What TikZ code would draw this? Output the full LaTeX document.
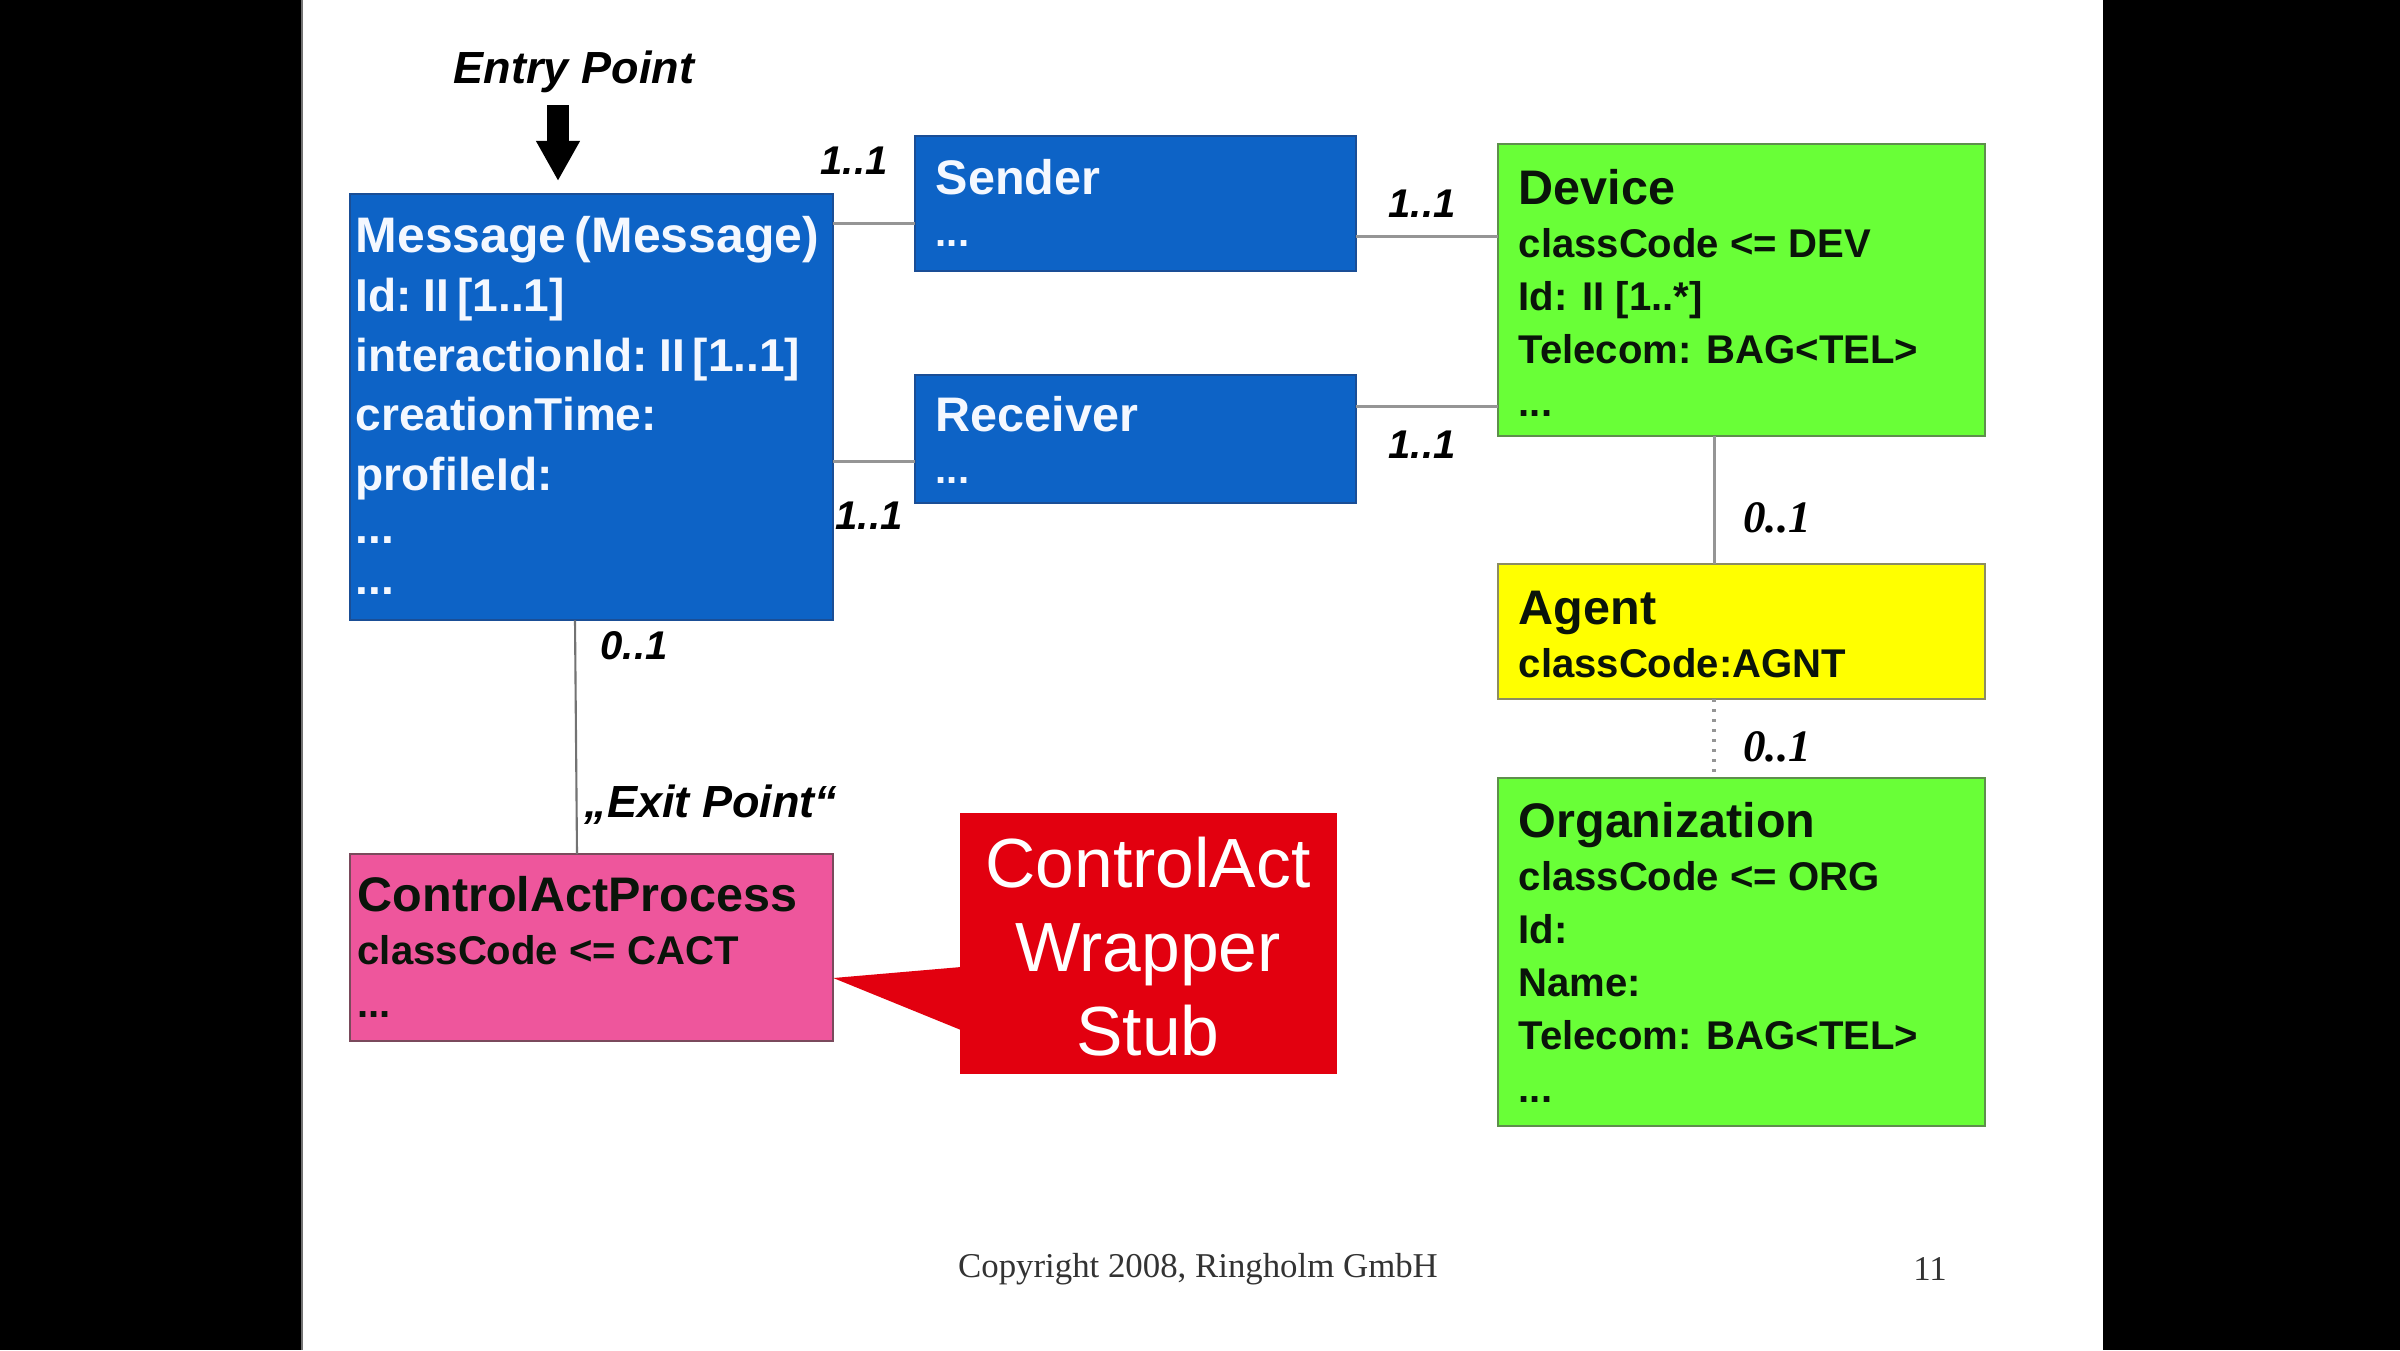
\documentclass[tikz,border=0pt]{standalone}
\usepackage{fontspec}
\setmainfont{Liberation Serif}
\setsansfont{Liberation Sans}
\newfontfamily\msgfont{Liberation Sans}[WordSpace=0.6]
\usetikzlibrary{arrows.meta}
\definecolor{boxblue}{HTML}{0D63C6}
\definecolor{boxblueedge}{HTML}{1A4E96}
\definecolor{boxgreen}{HTML}{69FF37}
\definecolor{boxgreenedge}{HTML}{5E8F4C}
\definecolor{boxyellow}{HTML}{FFFF00}
\definecolor{boxyellowedge}{HTML}{8C8C62}
\definecolor{boxpink}{HTML}{EE569C}
\definecolor{boxpinkedge}{HTML}{7A4A5C}
\definecolor{boxred}{HTML}{E2000F}
\definecolor{conngray}{HTML}{959595}
\definecolor{bluetext}{HTML}{F4F8FF}
\definecolor{darktext}{HTML}{0A140A}
\newcommand{\boxlines}[1]{\begin{tabular}[t]{@{}l@{}}#1\end{tabular}}
\newcommand{\centlines}[1]{\begin{tabular}[t]{@{}c@{}}#1\end{tabular}}
\newcommand{\titlef}{\fontsize{13.8pt}{15pt}\selectfont}
\begin{document}
\begin{tikzpicture}[x=0.01cm, y=-0.01cm,
  boxshape/.style={rectangle, inner sep=0pt, outer sep=0pt, line width=0.6pt, anchor=north west},
  bluebox/.style={boxshape, fill=boxblue, draw=boxblueedge},
  greenbox/.style={boxshape, fill=boxgreen, draw=boxgreenedge},
  yellowbox/.style={boxshape, fill=boxyellow, draw=boxyellowedge},
  pinkbox/.style={boxshape, fill=boxpink, draw=boxpinkedge},
  redbox/.style={boxshape, fill=boxred, draw=boxred},
  msgtxt/.style={inner sep=0pt, anchor=base west, text=bluetext, font=\fontsize{13.1pt}{16.93pt}\selectfont\msgfont\bfseries},
  bluetxt/.style={inner sep=0pt, anchor=base west, text=bluetext, font=\fontsize{11.4pt}{14.8pt}\selectfont\sffamily\bfseries},
  attrtxt/.style={inner sep=0pt, anchor=base west, text=darktext, font=\fontsize{11.4pt}{15.08pt}\selectfont\sffamily\bfseries},
  stubtxt/.style={inner sep=0pt, anchor=base, text=white, font=\fontsize{19.8pt}{24pt}\selectfont\sffamily},
  conn/.style={draw=conngray, line width=0.85pt},
  lblb/.style={inner sep=0pt, text=black, font=\fontsize{11.4pt}{13pt}\selectfont\sffamily\bfseries\itshape},
  lblbig/.style={inner sep=0pt, text=black, font=\fontsize{12.8pt}{14pt}\selectfont\sffamily\bfseries\itshape},
  lbls/.style={inner sep=0pt, text=black, font=\fontsize{12.8pt}{14pt}\selectfont\rmfamily\bfseries\itshape},
  foot/.style={inner sep=0pt, text=black!80, font=\fontsize{9.9pt}{12pt}\selectfont\rmfamily}
]
\useasboundingbox (0,0) rectangle (2400,1350);
\fill[black] (0,0) rectangle (2400,1350);
\fill[white] (302,0) rectangle (2103,1350);
\draw[black!55, line width=0.6pt] (302,0) -- (302,1350);

% boxes
\node[bluebox, minimum width=4.83cm, minimum height=4.26cm] (msg) at (350,194) {};
\node[bluebox, minimum width=4.41cm, minimum height=1.35cm] (snd) at (915,136) {};
\node[bluebox, minimum width=4.41cm, minimum height=1.28cm] (rcv) at (915,375) {};
\node[greenbox, minimum width=4.87cm, minimum height=2.92cm] (dev) at (1498,144) {};
\node[yellowbox, minimum width=4.87cm, minimum height=1.35cm] (agt) at (1498,564) {};
\node[greenbox, minimum width=4.87cm, minimum height=3.48cm] (org) at (1498,778) {};
\node[pinkbox, minimum width=4.83cm, minimum height=1.87cm] (cap) at (350,854) {};
\node[redbox, minimum width=3.75cm, minimum height=2.59cm] (stub) at (961,814) {};

% callout pointer
\coordinate (tip) at (cap.east |- 0,978);
\fill[boxred] (stub.west |- 0,967) -- (tip) -- (stub.west |- 0,1030) -- cycle;

% box texts
\node[msgtxt] (msgt) at (355,252) {\boxlines{{\fontsize{14.2pt}{15pt}\selectfont Message (Message)}\\ Id: II [1..1]\\ interactionId: II [1..1]\\ creationTime:\\ profileId:\\[-1.85pt] ...\\[-2.4pt] ...}};
\node[bluetxt] (sndt) at (935,194) {\boxlines{\titlef Sender\\ ...}};
\node[bluetxt] (rcvt) at (935,431) {\boxlines{\titlef Receiver\\ ...}};
\node[attrtxt] (devt) at (1518,204) {\boxlines{\titlef Device\\ classCode <= DEV\\ Id: II [1..*]\\ Telecom: BAG<TEL>\\ ...}};
\node[attrtxt] (agtt) at (1518,624) {\boxlines{\titlef Agent\\ classCode:AGNT}};
\node[attrtxt] (orgt) at (1518,837) {\boxlines{\titlef Organization\\ classCode <= ORG\\ Id:\\ Name:\\ Telecom: BAG<TEL>\\ ...}};
\node[attrtxt] (capt) at (357,911) {\boxlines{\titlef ControlActProcess\\ classCode <= CACT\\ ...}};
\node[stubtxt] (stubt) at (1148,887) {\centlines{ControlAct\\ Wrapper\\ Stub}};

% connectors
\draw[conn] (msg.east |- 0,223) -- (snd.west |- 0,223);
\draw[conn] (msg.east |- 0,461) -- (rcv.west |- 0,461);
\draw[conn] (snd.east |- 0,236) -- (dev.west |- 0,236);
\draw[conn] (rcv.east |- 0,406) -- (dev.west |- 0,406);
\draw[conn] (dev.south -| 1714,0) -- (agt.north -| 1714,0);
\draw[conn, dotted, line width=1pt] (agt.south -| 1714,0) -- (org.north -| 1714,0);
\draw[draw=black!55, line width=0.6pt] (msg.south -| 575,0) -- (cap.north -| 577,0);

% entry arrow
\node[lblbig] (entry) at (574,72) {Entry Point};
\coordinate (entrytop) at (558,105);
\coordinate (entrytip) at (558,181);
\draw[black, line width=0.22cm, -{Triangle[length=0.4cm, width=0.41cm]}] (entrytop) -- (entrytip);

% multiplicity labels
\node[lblb] (m1) at (854,161) {1..1};
\node[lblb] (m2) at (869,516) {1..1};
\node[lblb] (m3) at (1422,204) {1..1};
\node[lblb] (m4) at (1422,445) {1..1};
\node[lblb] (m5) at (634,646) {0..1};
\node[lbls] (m6) at (1777,518) {0..1};
\node[lbls] (m7) at (1777,747) {0..1};
\node[lblbig] (exitp) at (711,805) {„Exit Point“};

% footer
\node[foot] (copy) at (1198,1269) {Copyright 2008, Ringholm GmbH};
\node[foot] (pageno) at (1930,1269) {11};
\end{tikzpicture}
\end{document}
